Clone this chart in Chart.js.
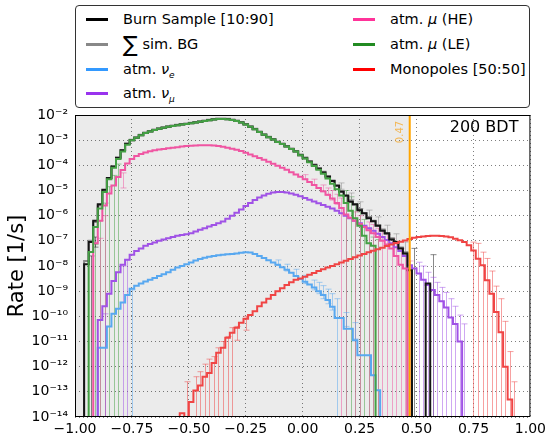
<!DOCTYPE html>
<html>
<head>
<meta charset="utf-8">
<script src="https://cdn.jsdelivr.net/npm/chart.js@4.4.0/dist/chart.umd.min.js"></script>
<style>
  body { margin: 0; background: #fff; }
  #wrap { position: relative; width: 550px; height: 435px; font-family: "DejaVu Sans", sans-serif; }
  #legend { position: absolute; left: 75px; top: 5px; width: 453px; height: 101px; border: 1px solid #333; border-radius: 4px; background: #fff; font-size: 14.5px; color: #000; }
  .item { position: absolute; height: 20px; line-height: 20px; white-space: nowrap; }
  .swatch { position: absolute; left: 0; top: 9px; width: 22px; height: 3px; }
  .label { position: absolute; left: 37px; top: 0; }
  .label i { font-style: italic; }
  .label sub { font-size: 9px; vertical-align: -4px; line-height: 0; }
  .sum { font-size: 22px; vertical-align: -3px; line-height: 0; }
</style>
</head>
<body>
<div id="wrap">
  <canvas id="myChart" width="550" height="435"></canvas>
  <div id="legend"></div>
</div>
<script>
// histogram bins: 100 bins of width 0.02 from -1 to 1, values are log10(rate [1/s]), null = empty bin
const BIN_WIDTH = 0.02;
const FLOOR_RATE = 1e-16;
const CUT = 0.47;

const xTickValues = [-1, -0.75, -0.5, -0.25, 0, 0.25, 0.5, 0.75, 1];
const xTickLabels = ['−1.00', '−0.75', '−0.50', '−0.25', '0.00', '0.25', '0.50', '0.75', '1.00'];
const yTickExponents = [-14, -13, -12, -11, -10, -9, -8, -7, -6, -5, -4, -3, -2];
const yTickLabels = ['10⁻¹⁴', '10⁻¹³', '10⁻¹²', '10⁻¹¹', '10⁻¹⁰', '10⁻⁹', '10⁻⁸', '10⁻⁷', '10⁻⁶', '10⁻⁵', '10⁻⁴', '10⁻³', '10⁻²'];

const burnSample = [
  null, null, null, -7.93, -7.05, -6.20, -5.55, -4.97, -4.50, -4.05,
  -3.70, -3.40, -3.14, -3.00, -2.90, -2.80, -2.72, -2.66, -2.60, -2.55,
  -2.51, -2.47, -2.44, -2.41, -2.38, -2.36, -2.33, -2.30, -2.27, -2.24,
  -2.21, -2.18, -2.16, -2.16, -2.17, -2.20, -2.24, -2.30, -2.38, -2.47,
  -2.57, -2.68, -2.78, -2.88, -2.97, -3.07, -3.15, -3.25, -3.35, -3.45,
  -3.60, -3.72, -3.86, -4.00, -4.14, -4.28, -4.45, -4.62, -4.80, -5.05,
  -5.20, -5.45, -5.55, -5.78, -5.90, -6.10, -6.22, -6.40, -6.60, -6.70,
  -6.95, -7.05, -7.30, -7.50, -8.17, null, null, null, -8.70, null,
  null, null, null, null, null, null, null, null, null, null,
  null, null, null, null, null, null, null, null, null, null
];
const sumBG = [
  null, null, null, -7.80, -7.00, -6.25, -5.60, -5.00, -4.50, -4.05,
  -3.70, -3.40, -3.14, -2.98, -2.88, -2.78, -2.70, -2.64, -2.58, -2.53,
  -2.49, -2.45, -2.42, -2.39, -2.36, -2.34, -2.31, -2.28, -2.25, -2.22,
  -2.19, -2.16, -2.14, -2.14, -2.15, -2.18, -2.22, -2.28, -2.36, -2.45,
  -2.55, -2.66, -2.76, -2.86, -2.95, -3.05, -3.13, -3.23, -3.33, -3.43,
  -3.57, -3.69, -3.83, -3.97, -4.11, -4.25, -4.42, -4.60, -4.82, -5.02,
  -5.22, -5.40, -5.57, -5.74, -5.90, -6.05, -6.20, -6.38, -6.55, -6.72,
  -6.90, -7.08, -7.26, -7.45, null, null, null, null, null, null,
  null, null, null, null, null, null, null, null, null, null,
  null, null, null, null, null, null, null, null, null, null
];
const atmNuE = [
  null, null, null, null, null, null, -11.25, -11.25, -10.40, -9.90,
  -9.70, -9.45, -9.15, -8.90, -8.78, -8.70, -8.62, -8.55, -8.48, -8.40,
  -8.33, -8.25, -8.15, -8.06, -8.00, -7.93, -7.86, -7.78, -7.72, -7.67,
  -7.63, -7.60, -7.57, -7.55, -7.53, -7.52, -7.50, -7.47, -7.45, -7.46,
  -7.52, -7.60, -7.68, -7.77, -7.86, -7.95, -8.05, -8.15, -8.27, -8.40,
  -8.52, -8.63, -8.74, -8.85, -9.00, -9.15, -9.35, -9.62, -10.07, -10.07,
  -10.49, -10.49, -10.95, -11.55, -11.55, -11.55, -12.34, -12.94, null, null,
  null, null, null, null, null, null, null, null, null, null,
  null, null, null, null, null, null, null, null, null, null,
  null, null, null, null, null, null, null, null, null, null
];
const atmNuMu = [
  null, null, null, null, null, null, -10.15, -9.60, -9.10, -8.60,
  -8.25, -7.95, -7.75, -7.55, -7.40, -7.30, -7.20, -7.13, -7.07, -7.00,
  -6.95, -6.90, -6.85, -6.80, -6.77, -6.74, -6.70, -6.63, -6.56, -6.50,
  -6.43, -6.37, -6.30, -6.23, -6.12, -6.00, -5.88, -5.75, -5.62, -5.50,
  -5.38, -5.28, -5.20, -5.13, -5.08, -5.06, -5.06, -5.08, -5.12, -5.17,
  -5.23, -5.30, -5.37, -5.44, -5.51, -5.58, -5.65, -5.72, -5.80, -5.90,
  -6.00, -6.10, -6.20, -6.30, -6.40, -6.50, -6.60, -6.72, -6.85, -6.97,
  -7.10, -7.25, -7.40, -7.60, -7.97, -8.10, -8.30, -8.55, -8.75, -8.95,
  -9.15, -9.40, -9.65, -10.05, -10.30, -11.00, null, null, null, null,
  null, null, null, null, null, null, null, null, null, null
];
const atmMuHE = [
  null, null, null, null, null, -7.10, -6.20, -5.60, -5.12, -4.80,
  -4.46, -4.19, -3.93, -3.75, -3.63, -3.55, -3.49, -3.44, -3.40, -3.37,
  -3.35, -3.32, -3.30, -3.28, -3.25, -3.23, -3.22, -3.21, -3.20, -3.20,
  -3.20, -3.21, -3.23, -3.26, -3.30, -3.34, -3.38, -3.43, -3.50, -3.57,
  -3.64, -3.71, -3.78, -3.86, -3.94, -4.02, -4.10, -4.18, -4.27, -4.36,
  -4.45, -4.55, -4.66, -4.78, -4.90, -5.03, -5.17, -5.32, -5.50, -5.70,
  -5.95, -6.08, -6.20, -6.33, -6.45, -6.58, -6.70, -6.85, -7.00, -7.15,
  -7.30, -7.60, -7.95, -8.10, null, null, null, null, null, null,
  null, null, null, null, null, null, null, null, null, null,
  null, null, null, null, null, null, null, null, null, null
];
const atmMuLE = [
  null, null, null, null, -7.44, -6.45, -5.72, -5.06, -4.55, -4.10,
  -3.75, -3.45, -3.18, -3.00, -2.90, -2.80, -2.72, -2.66, -2.60, -2.55,
  -2.51, -2.47, -2.44, -2.41, -2.38, -2.36, -2.33, -2.30, -2.27, -2.24,
  -2.21, -2.18, -2.16, -2.16, -2.17, -2.20, -2.24, -2.30, -2.38, -2.47,
  -2.57, -2.68, -2.78, -2.88, -2.97, -3.07, -3.15, -3.25, -3.35, -3.45,
  -3.60, -3.73, -3.88, -4.03, -4.18, -4.33, -4.52, -4.73, -4.95, -5.20,
  -5.50, -5.80, -6.10, -6.40, -6.80, -7.10, -7.20, null, null, null,
  null, null, null, null, null, null, null, null, null, null,
  null, null, null, null, null, null, null, null, null, null,
  null, null, null, null, null, null, null, null, null, null
];
const monopoles = [
  null, null, null, null, null, null, null, null, null, null,
  null, null, null, null, null, null, null, null, null, null,
  null, null, null, null, -13.85, null, -13.40, -12.95, -12.75, -12.40,
  -12.25, -11.85, -11.45, -11.25, -10.85, -10.65, -10.45, -10.25, -10.10, -9.95,
  -9.80, -9.60, -9.45, -9.30, -9.15, -9.00, -8.88, -8.75, -8.65, -8.55,
  -8.50, -8.43, -8.35, -8.28, -8.20, -8.13, -8.06, -8.00, -7.93, -7.86,
  -7.79, -7.72, -7.65, -7.58, -7.52, -7.45, -7.39, -7.33, -7.27, -7.21,
  -7.15, -7.09, -7.04, -6.99, -6.93, -6.88, -6.85, -6.83, -6.81, -6.80,
  -6.80, -6.81, -6.83, -6.86, -6.92, -6.98, -7.05, -7.18, -7.38, -7.71,
  -7.97, -8.57, -9.10, -9.83, -10.63, -12.00, -13.30, null, null, null
];

// error bars: [bin, low log10 (null = down to the axis floor), high log10]
const burnSampleErr = [
  [3, null, -7.60], [4, -7.25, -6.85], [74, null, -7.30], [78, null, -7.55]
];
const sumBGErr = [
  [58, -4.95, -4.70], [60, -5.35, -5.10], [62, -5.72, -5.45], [64, -6.05, -5.78], [66, -6.38, -6.05],
  [68, -6.75, -6.38], [70, -7.12, -6.72], [72, -7.55, -7.05]
];
const atmNuEErr = [
  [12, null, -8.95], [44, -7.98, -7.76], [46, -8.20, -7.93], [48, -8.42, -8.13], [50, -8.70, -8.37],
  [52, -8.95, -8.56], [53, -9.10, -8.65], [54, -9.30, -8.78], [55, -9.50, -8.92], [56, -9.75, -9.10],
  [57, null, -9.30], [59, -10.40, -9.85], [61, -10.90, -10.25]
];
const atmNuMuErr = [
  [6, null, -9.90], [10, null, -8.00], [11, null, -7.75], [75, null, -7.85], [76, null, -8.00],
  [77, null, -8.25], [78, null, -8.45], [79, null, -8.65], [80, null, -8.85], [81, null, -9.05],
  [82, null, -9.30], [83, null, -9.60], [84, null, -9.95], [85, null, -10.30]
];
const atmMuHEErr = [
  [5, null, -6.90], [6, null, -6.00], [10, -4.90, -4.30], [50, -4.55, -4.37], [52, -4.78, -4.55],
  [54, -5.05, -4.78], [55, -5.20, -4.90], [56, -5.38, -5.00], [57, -5.55, -5.15], [58, null, -5.30],
  [59, null, -5.50], [61, null, -5.85], [62, null, -6.00], [64, null, -6.25], [65, null, -6.35],
  [66, null, -6.50], [67, null, -6.60], [68, null, -6.75], [69, null, -6.90], [70, null, -7.05],
  [71, null, -7.30], [72, null, -7.60], [73, null, -7.80]
];
const atmMuLEErr = [
  [4, null, -7.15], [5, null, -6.20], [6, null, -5.50], [7, null, -4.85], [8, null, -4.40],
  [9, null, -3.95], [59, null, -5.00], [60, null, -5.25], [61, null, -5.55], [62, null, -5.85],
  [63, null, -6.15], [64, null, -6.50], [65, null, -6.85], [66, null, -6.95]
];
const monopolesErr = [
  [24, null, -12.60], [26, null, -12.40], [27, null, -12.20], [28, null, -11.90], [29, null, -11.70],
  [30, null, -11.60], [31, null, -11.25], [32, null, -11.00], [33, null, -10.80], [34, null, -10.45],
  [35, -10.95, -10.40], [37, -10.55, -10.00], [87, null, -7.05], [88, null, -7.10], [89, null, -7.45],
  [90, null, -7.70], [91, null, -8.20], [92, null, -8.80], [93, null, -9.30], [94, null, -10.20],
  [95, null, -11.40], [96, null, -12.60]
];

// legend colours and the lighter tints used for the histogram lines
const colors = {
  burn: '#000000', bg: '#888888', nuE: '#3399ff', nuMu: '#9933ee',
  muHE: '#ff3399', muLE: '#228b22', mono: '#ff0000'
};
const lineColors = {
  burn: '#151515', bg: '#8a8a8a', nuE: '#58a8f0', nuMu: '#a052e6',
  muHE: '#f055a2', muLE: '#44a044', mono: '#f04444'
};

function rgba(hex, a) {
  const n = parseInt(hex.slice(1), 16);
  return 'rgba(' + (n >> 16) + ',' + ((n >> 8) & 255) + ',' + (n & 255) + ',' + a + ')';
}

// one point per bin left edge plus the closing right edge, drawn as a step line
function stepPoints(logRates) {
  const pts = logRates.map((v, i) => ({ x: -1 + i * BIN_WIDTH, y: v === null ? FLOOR_RATE : Math.pow(10, v) }));
  pts.push({ x: 1, y: pts[pts.length - 1].y });
  return pts;
}

function histDataset(label, logRates, color, width, errs) {
  return {
    label: label,
    data: stepPoints(logRates),
    borderColor: color,
    borderWidth: width,
    stepped: 'after',
    pointRadius: 0,
    fill: false,
    errColor: rgba(color, 0.5),
    errBars: errs
  };
}

// grey region, error bars, cut line and frame
const plotDecor = {
  id: 'plotDecor',
  beforeDraw(chart) {
    const { ctx, chartArea: a, scales: { x } } = chart;
    ctx.save();
    ctx.fillStyle = '#ebebeb';
    ctx.fillRect(a.left, a.top, x.getPixelForValue(CUT) - a.left, a.bottom - a.top);
    ctx.restore();
  },
  beforeDatasetsDraw(chart) {
    const { ctx, chartArea: a, scales: { x, y } } = chart;
    ctx.save();
    ctx.beginPath();
    ctx.rect(a.left, a.top, a.right - a.left, a.bottom - a.top);
    ctx.clip();
    ctx.lineWidth = 1;
    chart.data.datasets.forEach(ds => {
      ctx.strokeStyle = ds.errColor;
      (ds.errBars || []).forEach(([bin, lo, hi]) => {
        const px = Math.round(x.getPixelForValue(-1 + (bin + 0.5) * BIN_WIDTH)) + 0.5;
        const yTop = y.getPixelForValue(Math.pow(10, hi));
        const yBot = lo === null ? a.bottom : y.getPixelForValue(Math.pow(10, lo));
        ctx.beginPath();
        ctx.moveTo(px, yBot);
        ctx.lineTo(px, yTop);
        ctx.moveTo(px - 3, yTop);
        ctx.lineTo(px + 3, yTop);
        if (lo !== null) {
          ctx.moveTo(px - 3, yBot);
          ctx.lineTo(px + 3, yBot);
        }
        ctx.stroke();
      });
    });
    ctx.restore();
  },
  afterDatasetsDraw(chart) {
    const { ctx, chartArea: a, scales: { x } } = chart;
    const xc = x.getPixelForValue(CUT);
    ctx.save();
    ctx.strokeStyle = '#ffa500';
    ctx.lineWidth = 2;
    ctx.beginPath();
    ctx.moveTo(xc, a.top);
    ctx.lineTo(xc, a.bottom);
    ctx.stroke();

    ctx.translate(xc - 9, a.top + 17);
    ctx.rotate(-Math.PI / 2);
    ctx.fillStyle = 'rgba(245,166,35,0.75)';
    ctx.font = '10px "DejaVu Sans"';
    ctx.textAlign = 'center';
    ctx.textBaseline = 'middle';
    ctx.fillText(CUT.toFixed(2), 0, 0);
    ctx.restore();

    ctx.save();
    ctx.fillStyle = '#000';
    ctx.font = '16px "DejaVu Sans"';
    ctx.textAlign = 'right';
    ctx.textBaseline = 'middle';
    ctx.fillText('200 BDT', a.right - 12, a.top + 13);
    ctx.strokeStyle = '#000';
    ctx.lineWidth = 1;
    ctx.strokeRect(a.left + 0.5, a.top + 0.5, a.right - a.left - 1, a.bottom - a.top - 1);
    ctx.restore();
  }
};

Chart.defaults.font.family = '"DejaVu Sans", sans-serif';
Chart.defaults.color = '#000';

function displayChart() {
  var ctx = document.getElementById('myChart').getContext('2d');

  var gridOpts = { color: 'rgba(0,0,0,0.5)', lineWidth: 1, drawTicks: false };

  var myChart = new Chart(ctx, {
    type: 'line',
    data: {
      datasets: [
        histDataset('Monopoles [50:50]', monopoles, lineColors.mono, 2, monopolesErr),
        histDataset('atm. μ (LE)', atmMuLE, lineColors.muLE, 2, atmMuLEErr),
        histDataset('atm. μ (HE)', atmMuHE, lineColors.muHE, 2, atmMuHEErr),
        histDataset('Burn Sample [10:90]', burnSample, lineColors.burn, 2, burnSampleErr),
        histDataset('atm. ν_μ', atmNuMu, lineColors.nuMu, 2, atmNuMuErr),
        histDataset('atm. ν_e', atmNuE, lineColors.nuE, 2, atmNuEErr),
        histDataset('∑ sim. BG', sumBG, lineColors.bg, 2, sumBGErr)
      ]
    },
    options: {
      responsive: false,
      animation: false,
      devicePixelRatio: 1,
      layout: { padding: { top: 115, right: 19, left: 0, bottom: 0 } },
      plugins: { legend: { display: false }, tooltip: { enabled: false } },
      scales: {
        x: {
          type: 'linear',
          min: -1,
          max: 1,
          afterFit: s => { s.height = 18; },
          afterBuildTicks: s => { s.ticks = xTickValues.map(v => ({ value: v })); },
          ticks: {
            callback: (v, i) => xTickLabels[i],
            font: { size: 14 },
            color: '#000',
            padding: 4,
            maxRotation: 0,
            autoSkip: false
          },
          grid: gridOpts,
          border: { display: false, dash: [1, 3] }
        },
        y: {
          type: 'logarithmic',
          min: 1e-14,
          max: 1e-2,
          afterFit: s => { s.width = 75; },
          afterBuildTicks: s => { s.ticks = yTickExponents.map(e => ({ value: Math.pow(10, e) })); },
          ticks: {
            callback: (v, i) => yTickLabels[i],
            font: { size: 14 },
            color: '#000',
            padding: 7,
            autoSkip: false
          },
          title: {
            display: true,
            text: 'Rate [1/s]',
            font: { size: 21 },
            color: '#000',
            padding: { top: 5, bottom: 0 }
          },
          grid: gridOpts,
          border: { display: false, dash: [1, 3] }
        }
      }
    },
    plugins: [plotDecor]
  });
  return myChart;
}

// legend drawn as a two-column box above the plot
const legendEntries = [
  { html: 'Burn Sample [10:90]', color: colors.burn, col: 0, row: 0 },
  { html: '<span class="sum">∑</span> sim. BG', color: colors.bg, col: 0, row: 1 },
  { html: 'atm. <i>ν</i><sub><i>e</i></sub>', color: colors.nuE, col: 0, row: 2 },
  { html: 'atm. <i>ν</i><sub><i>μ</i></sub>', color: colors.nuMu, col: 0, row: 3 },
  { html: 'atm. <i>μ</i> (HE)', color: colors.muHE, col: 1, row: 0 },
  { html: 'atm. <i>μ</i> (LE)', color: colors.muLE, col: 1, row: 1 },
  { html: 'Monopoles [50:50]', color: colors.mono, col: 1, row: 2 }
];

function buildLegend() {
  const box = document.getElementById('legend');
  const colLeft = [10, 277];
  const rowTop = [3, 28, 53, 77];
  legendEntries.forEach(e => {
    const item = document.createElement('div');
    item.className = 'item';
    item.style.left = colLeft[e.col] + 'px';
    item.style.top = rowTop[e.row] + 'px';
    item.innerHTML = '<div class="swatch" style="background:' + e.color + '"></div><div class="label">' + e.html + '</div>';
    box.appendChild(item);
  });
}

displayChart();
buildLegend();
</script>
</body>
</html>
